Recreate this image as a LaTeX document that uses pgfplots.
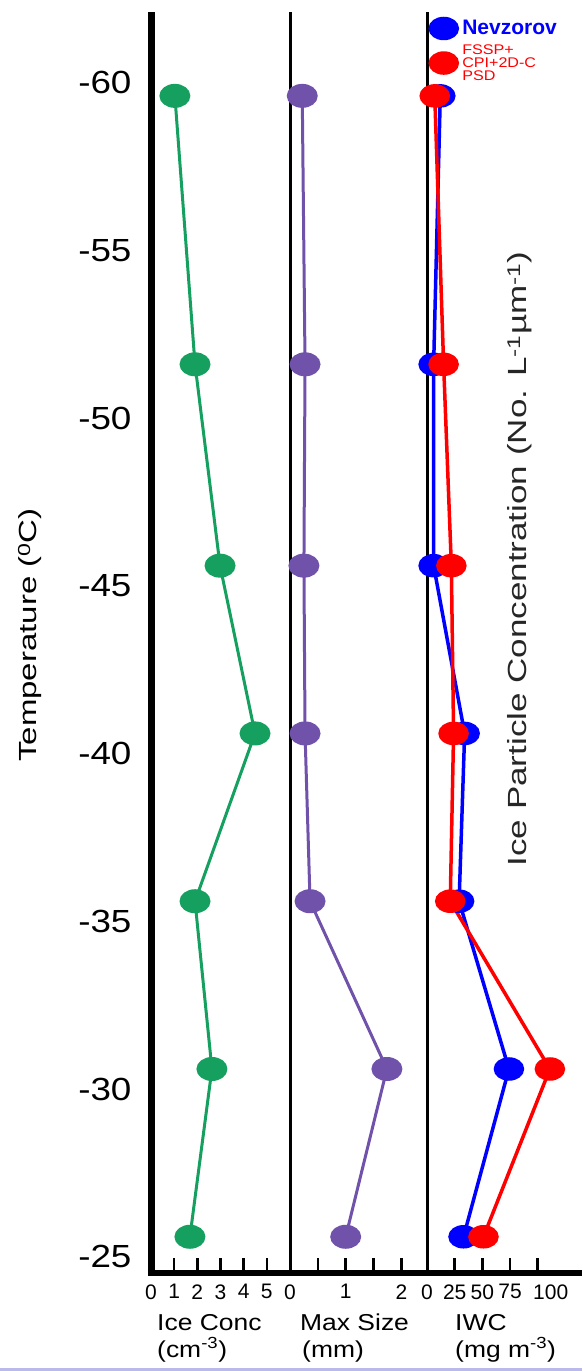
\documentclass[border=0pt]{standalone}
\usepackage{pgfplots}
\pgfplotsset{compat=1.18}
\usepackage{fontspec}
\setmainfont{Liberation Sans}
\definecolor{cgreen}{RGB}{22,160,95}
\definecolor{cpurple}{RGB}{112,82,170}
\definecolor{cborder}{RGB}{185,185,235}
\newcommand{\yl}[1]{\scalebox{1.15}[1]{#1}}
\begin{document}
\begin{tikzpicture}[x=1pt,y=1pt]
\useasboundingbox (0,0) rectangle (582,1371);
\pgfplotsset{
  panel/.style={
    scale only axis, anchor=south west, height=1261pt,
    y dir=reverse, ymin=-62.1, ymax=-24.52,
    axis line style={draw=none},
    xtick pos=left, xticklabel pos=left,
    xtick align=inside,
    major tick length=15pt,
    every tick/.style={black, line width=2.6pt},
    ytick=\empty,
    xticklabel style={font=\fontsize{21}{24}\selectfont, yshift=-8pt},
    clip=false,
    every axis plot/.append style={line width=3pt},
  }
}
% axis lines
\draw[line width=6pt] (147.5,98) -- (582,98);
\draw[line width=7pt] (151,95) -- (151,1359);
\draw[line width=3pt] (290,98) -- (290,1359);
\draw[line width=3pt] (427,98) -- (427,1359);
\draw[cborder, line width=3pt] (0,1.5) -- (582,1.5);

% Panel 1: Ice Conc
\begin{axis}[panel, name=ax1, at={(151pt,98pt)}, width=139pt,
  xmin=0, xmax=6, xtick={0,1,2,3,4,5}, xticklabels={0,1,2,3,4,5},
  ytick={-60,-55,-50,-45,-40,-35,-30,-25},
  yticklabels={\yl{-60},\yl{-55},\yl{-50},\yl{-45},\yl{-40},\yl{-35},\yl{-30},\yl{-25}},
  ytick style={draw=none},
  yticklabel style={font=\fontsize{32}{36}\selectfont, xshift=-16pt},
]
\addplot[cgreen, mark=*, mark size=10.5pt, mark options={xscale=1.33, fill=cgreen, draw=cgreen}]
  coordinates {(1.03,-59.6) (1.90,-51.6) (2.98,-45.6) (4.49,-40.6) (1.90,-35.6) (2.63,-30.6) (1.68,-25.6)};
\end{axis}

% Panel 2: Max Size
\begin{axis}[panel, name=ax2, at={(290pt,98pt)}, width=137pt,
  xmin=0, xmax=2.46, xtick={0,0.5,1,1.5,2}, xticklabels={0,,1,,2},
]
\addplot[cpurple, mark=*, mark size=10.5pt, mark options={xscale=1.33, fill=cpurple, draw=cpurple}]
  coordinates {(0.22,-59.6) (0.27,-51.6) (0.25,-45.6) (0.27,-40.6) (0.36,-35.6) (1.74,-30.6) (1.00,-25.6)};
\end{axis}

% Panel 3: IWC
\begin{axis}[panel, name=ax3, at={(427pt,98pt)}, width=155pt,
  xmin=0, xmax=140, xtick={0,25,50,75,100}, xticklabels={0,25,50,75,\hspace{26pt}100},
  legend style={at={(0.02,0.995)}, anchor=north west, draw=none, fill=none,
    inner sep=0pt, row sep=4pt, column sep=3pt},
  legend cell align=left,
  legend image code/.code={\draw[#1] plot[only marks] coordinates {(0.3cm,0cm)};},
]
\addplot[blue, line width=3.5pt, mark=*, mark size=10pt, mark options={xscale=1.35, fill=blue, draw=blue}]
  coordinates {(12,-59.6) (6,-51.6) (6,-45.6) (34,-40.6) (29,-35.6) (74,-30.6) (33,-25.6)};
\addlegendentry{\textcolor{blue}{\fontsize{21}{22}\selectfont\bfseries Nevzorov}}
\addplot[red, line width=3.5pt, mark=*, mark size=10pt, mark options={xscale=1.35, fill=red, draw=red}]
  coordinates {(7,-59.6) (15,-51.6) (22,-45.6) (24,-40.6) (21,-35.6) (111,-30.6) (51,-25.6)};
\addlegendentry{\textcolor{red}{\scalebox{1.15}[1]{\fontsize{14}{12}\selectfont\shortstack[l]{FSSP+\\CPI+2D-C\\PSD}}}}
\end{axis}

% axis titles
\node[rotate=90] at (30,736) {\scalebox{1}[0.75]{\fontsize{33}{36}\selectfont Temperature (\textsuperscript{0}C)}};
\node[rotate=90, text=black!85] at (520,812) {\scalebox{1}[0.75]{\fontsize{35}{38}\selectfont Ice Particle Concentration (No. L\textsuperscript{-1}µm\textsuperscript{-1})}};

\begin{scope}
\node[anchor=base west, inner sep=0pt] at (157,40) {\scalebox{1.15}[1]{\fontsize{23}{26}\selectfont Ice Conc}};
\node[anchor=base west, inner sep=0pt] at (157,13) {\scalebox{1.15}[1]{\fontsize{23}{26}\selectfont (cm\textsuperscript{-3})}};
\node[anchor=base west, inner sep=0pt] at (300,40) {\scalebox{1.15}[1]{\fontsize{23}{26}\selectfont Max Size}};
\node[anchor=base west, inner sep=0pt] at (302,13) {\scalebox{1.15}[1]{\fontsize{23}{26}\selectfont (mm)}};
\node[anchor=base west, inner sep=0pt] at (455,40) {\scalebox{1.15}[1]{\fontsize{23}{26}\selectfont IWC}};
\node[anchor=base west, inner sep=0pt] at (455,13) {\scalebox{1.15}[1]{\fontsize{23}{26}\selectfont (mg m\textsuperscript{-3})}};
\end{scope}
\end{tikzpicture}
\end{document}
